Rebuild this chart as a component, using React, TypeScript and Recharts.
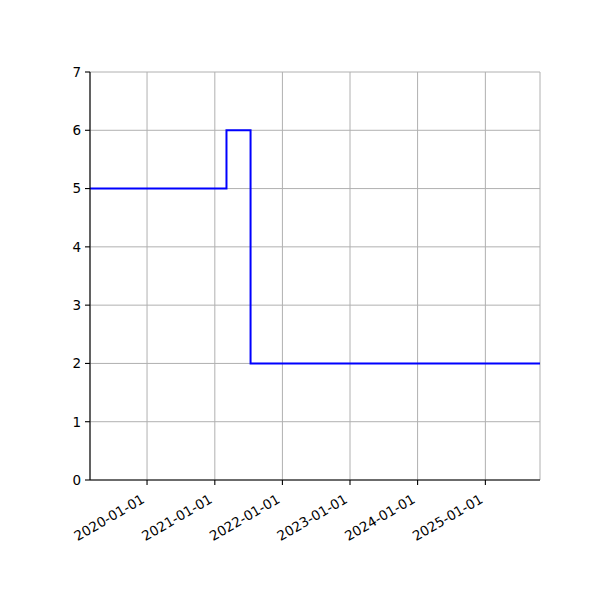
import { LineChart, Line, XAxis, YAxis, CartesianGrid } from 'recharts';

// step points (value holds until the next date)
const dates = ['2019-02-27', '2021-03-05', '2021-07-13', '2025-10-23'];
const values = [5, 6, 2, 2];

const xTickDates = ['2020-01-01', '2021-01-01', '2022-01-01', '2023-01-01', '2024-01-01', '2025-01-01'];
const yTicks = [0, 1, 2, 3, 4, 5, 6, 7];

const data = dates.map((d, i) => ({ t: Date.parse(d), v: values[i] }));
const xTicks = xTickDates.map((d) => Date.parse(d));
const xDomain = [data[0].t, data[data.length - 1].t];

const FONT = '"DejaVu Sans", sans-serif';

function fmtDate(t: number) {
    return new Date(t).toISOString().slice(0, 10);
}

function DateTick({ x, y, payload }: any) {
    return (
        <g transform={`translate(${x - 1.5},${y + 15})`}>
            <text textAnchor="end" transform="rotate(-30)" fontSize={13.5} fontFamily={FONT} fill="#000">
                {fmtDate(payload.value)}
            </text>
        </g>
    );
}

export default function App() {
    return (
        <div style={{ position: 'absolute', left: 0, top: 0, background: '#fff' }}>
            <LineChart width={600} height={600} data={data} margin={{ top: 72, right: 60, bottom: 60, left: 50 }}>
                <CartesianGrid stroke="#b0b0b0" strokeWidth={1} />
                <XAxis
                    dataKey="t"
                    type="number"
                    scale="time"
                    domain={xDomain}
                    ticks={xTicks}
                    tick={<DateTick />}
                    tickSize={5}
                    height={60}
                    interval={0}
                    axisLine={{ stroke: '#000', strokeWidth: 1.1 }}
                    tickLine={{ stroke: '#000', strokeWidth: 1.1 }}
                />
                <XAxis
                    xAxisId="top"
                    orientation="top"
                    dataKey="t"
                    type="number"
                    domain={xDomain}
                    tick={false}
                    tickLine={false}
                    height={0}
                    axisLine={{ stroke: '#000', strokeWidth: 1.1 }}
                />
                <YAxis
                    type="number"
                    domain={[0, 7]}
                    ticks={yTicks}
                    interval={0}
                    width={40}
                    tickSize={5}
                    tickMargin={4}
                    tick={{ fill: '#000', fontSize: 13.5, fontFamily: FONT }}
                    axisLine={{ stroke: '#000', strokeWidth: 1.1 }}
                    tickLine={{ stroke: '#000', strokeWidth: 1.1 }}
                />
                <YAxis
                    yAxisId="right"
                    orientation="right"
                    type="number"
                    domain={[0, 7]}
                    tick={false}
                    tickLine={false}
                    width={0}
                    axisLine={{ stroke: '#000', strokeWidth: 1.1 }}
                />
                <Line
                    type="stepAfter"
                    dataKey="v"
                    stroke="#0000ff"
                    strokeWidth={2}
                    dot={false}
                    activeDot={false}
                    isAnimationActive={false}
                />
            </LineChart>
        </div>
    );
}
